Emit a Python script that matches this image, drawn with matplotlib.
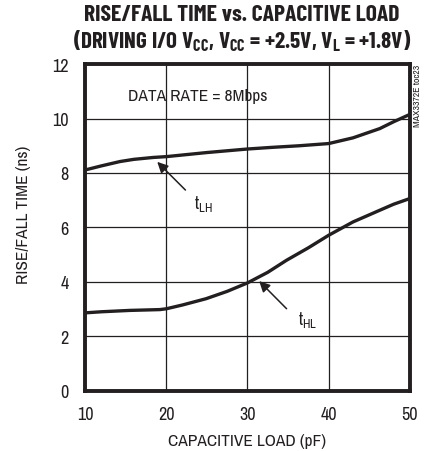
import matplotlib
matplotlib.use("Agg")
import matplotlib.pyplot as plt

plt.rcParams['font.family'] = ['Archivo Narrow', 'DejaVu Sans']
TITLE_FONT = ['Barlow Condensed', 'DejaVu Sans']
INK = "#231f20"

# capacitive load (pF) vs rise/fall time (ns)
load_lh = [10, 12, 14.3, 16, 18.4, 20, 25, 30, 33, 36.4, 40, 43, 46.3, 48, 50]
t_lh = [8.11, 8.26, 8.42, 8.5, 8.57, 8.6, 8.75, 8.88, 8.94, 9.0, 9.08, 9.29, 9.63, 9.88, 10.15]

load_hl = [10, 12, 15.5, 19.2, 20, 22, 24.9, 27.5, 30, 32.5, 34.8, 37.5, 40, 43, 46.3, 48, 50]
t_hl = [2.86, 2.9, 2.95, 2.98, 3.01, 3.15, 3.38, 3.65, 3.96, 4.35, 4.79, 5.25, 5.71, 6.2, 6.63, 6.85, 7.06]

x_ticks = [10, 20, 30, 40, 50]
y_ticks = [0, 2, 4, 6, 8, 10, 12]

fig = plt.figure(figsize=(4.3, 4.52), dpi=100)
ax = fig.add_axes([0.198, 0.1334, 0.755, 0.7226])

ax.plot(load_lh, t_lh, color=INK, lw=2.4, solid_capstyle="butt")
ax.plot(load_hl, t_hl, color=INK, lw=2.4, solid_capstyle="butt")

ax.set_xlim(10, 50)
ax.set_ylim(0, 12)
ax.set_xticks(x_ticks)
ax.set_yticks(y_ticks)
ax.tick_params(length=0, labelsize=13, colors=INK)
ax.tick_params(axis="x", pad=11)
ax.tick_params(axis="y", pad=12)
ax.grid(True, color=INK, lw=0.9)
for s in ax.spines.values():
    s.set_linewidth(2.8)
    s.set_color(INK)

ax.set_xlabel("CAPACITIVE LOAD (pF)", fontsize=12.5, labelpad=8, color=INK)
fig.text(0.055, 0.525, "RISE/FALL TIME (ns)", rotation=90, fontsize=12.5,
         ha="center", va="center", color=INK)

arrow = dict(arrowstyle="-|>", color=INK, lw=1.1, mutation_scale=16)
ax.annotate("", xy=(18.64, 8.48), xytext=(22.6, 7.3), arrowprops=arrow)
ax.annotate("", xy=(31.2, 4.1), xytext=(35.06, 2.94), arrowprops=arrow)
ax.text(24.6, 6.9, r"t$_{\mathregular{LH}}$", fontsize=13, ha="center", va="center", color=INK)
ax.text(37.4, 2.64, r"t$_{\mathregular{HL}}$", fontsize=13, ha="center", va="center", color=INK)
ax.text(15.3, 10.85, "DATA RATE = 8Mbps", fontsize=12.5, ha="left", va="center", color=INK)

fig.text(0.972, 0.856, "MAX3372E toc23", rotation=90, fontsize=7,
         ha="center", va="top", color=INK)

fig.text(0.562, 0.966, "RISE/FALL TIME vs. CAPACITIVE LOAD", fontsize=17,
         fontweight="bold", family=TITLE_FONT, ha="center", va="center", color=INK)
fig.text(0.562, 0.91,
         r"(DRIVING I/O V$_{\mathregular{CC}}$, V$_{\mathregular{CC}}$ = +2.5V, V$_{\mathregular{L}}$ = +1.8V)",
         fontsize=16.6, fontweight="bold", family=TITLE_FONT, ha="center", va="center", color=INK)

fig.savefig("out.png", dpi=100)
